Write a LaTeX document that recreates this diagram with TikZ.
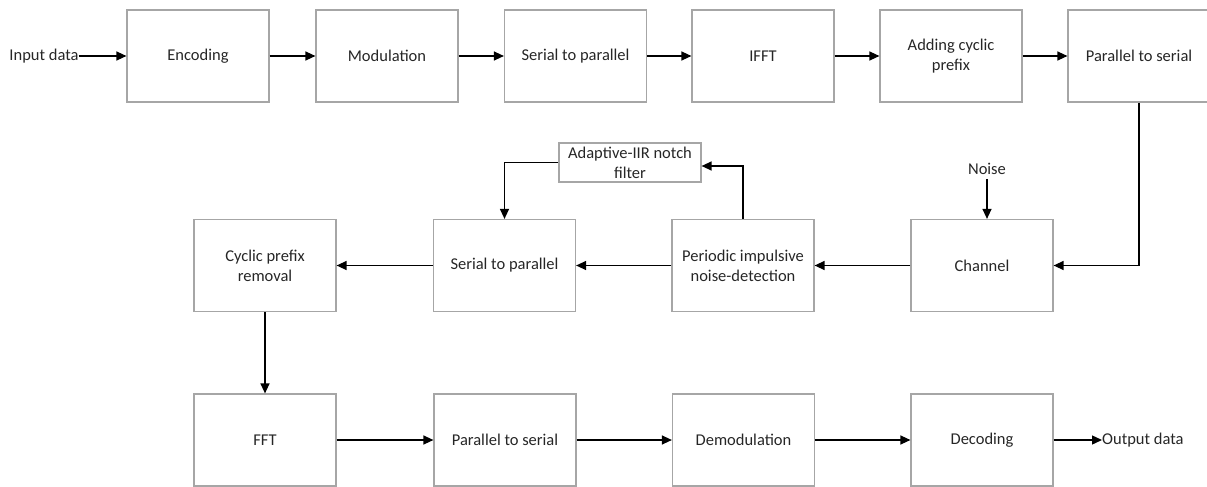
\documentclass[tikz,border=0pt]{standalone}
\usepackage{fontspec}
\setmainfont{Carlito}
\usetikzlibrary{arrows.meta}
\definecolor{boxline}{HTML}{A6A6A6}
\definecolor{txt}{HTML}{262626}
\begin{document}
\begin{tikzpicture}[x=1pt,y=-1pt,
  blk/.style={draw=boxline, line width=1.2pt, minimum width=142pt, minimum height=92pt,
    inner sep=0pt, align=center, font=\fontsize{16.5}{20}\selectfont, text=txt},
  small/.style={blk, minimum height=39pt},
  lbl/.style={inner sep=0pt, font=\fontsize{16.5}{20}\selectfont, text=txt},
  arr/.style={line width=1.3pt, -{Triangle[length=10pt,width=9pt]}}]
\useasboundingbox (0,0) rectangle (1207,487);
% top row
\node[blk] (enc) at (198,56) {Encoding};
\node[blk] (mod) at (387,56) {Modulation};
\node[blk] (s2p) at (575.5,56) {Serial to parallel};
\node[blk] (ifft) at (763,56) {IFFT};
\node[blk] (acp) at (951,56) {Adding cyclic\\prefix};
\node[blk] (p2s) at (1139,56) {Parallel to serial};
% middle row
\node[blk] (cpr) at (265,265.5) {Cyclic prefix\\removal};
\node[blk] (s2pb) at (504.5,265.5) {Serial to parallel};
\node[blk] (pind) at (743,265.5) {Periodic impulsive\\noise-detection};
\node[blk] (chan) at (982,265.5) {Channel};
\node[small] (anf) at (630,162.5) {Adaptive-IIR notch\\filter};
% bottom row
\node[blk] (fft) at (265,440) {FFT};
\node[blk] (p2sb) at (505,440) {Parallel to serial};
\node[blk] (demod) at (743.5,440) {Demodulation};
\node[blk] (dec) at (982,440) {Decoding};
% labels
\node[lbl] (inp) at (44,56) {Input data};
\node[lbl, anchor=west] (out) at (1102,440) {Output data};
\node[lbl] (noise) at (987,169) {Noise};
% connectors
\draw[arr] (inp.east) -- (enc.west);
\draw[arr] (enc.east) -- (mod.west);
\draw[arr] (mod.east) -- (s2p.west);
\draw[arr] (s2p.east) -- (ifft.west);
\draw[arr] (ifft.east) -- (acp.west);
\draw[arr] (acp.east) -- (p2s.west);
\draw[arr] (p2s.south) |- (chan.east);
\draw[arr] ([yshift=-4pt]noise.south) -- (noise.south |- chan.north);
\draw[arr] (chan.west) -- (pind.east);
\draw[arr] (pind.west) -- (s2pb.east);
\draw[arr] (s2pb.west) -- (cpr.east);
\draw[arr] (pind.north) |- ([yshift=-3.5pt]anf.east);
\draw[arr] (anf.west) -| (s2pb.north);
\draw[arr] (cpr.south) -- (fft.north);
\draw[arr] (fft.east) -- (p2sb.west);
\draw[arr] (p2sb.east) -- (demod.west);
\draw[arr] (demod.east) -- (dec.west);
\draw[arr] (dec.east) -- (out.west);
\end{tikzpicture}
\end{document}
